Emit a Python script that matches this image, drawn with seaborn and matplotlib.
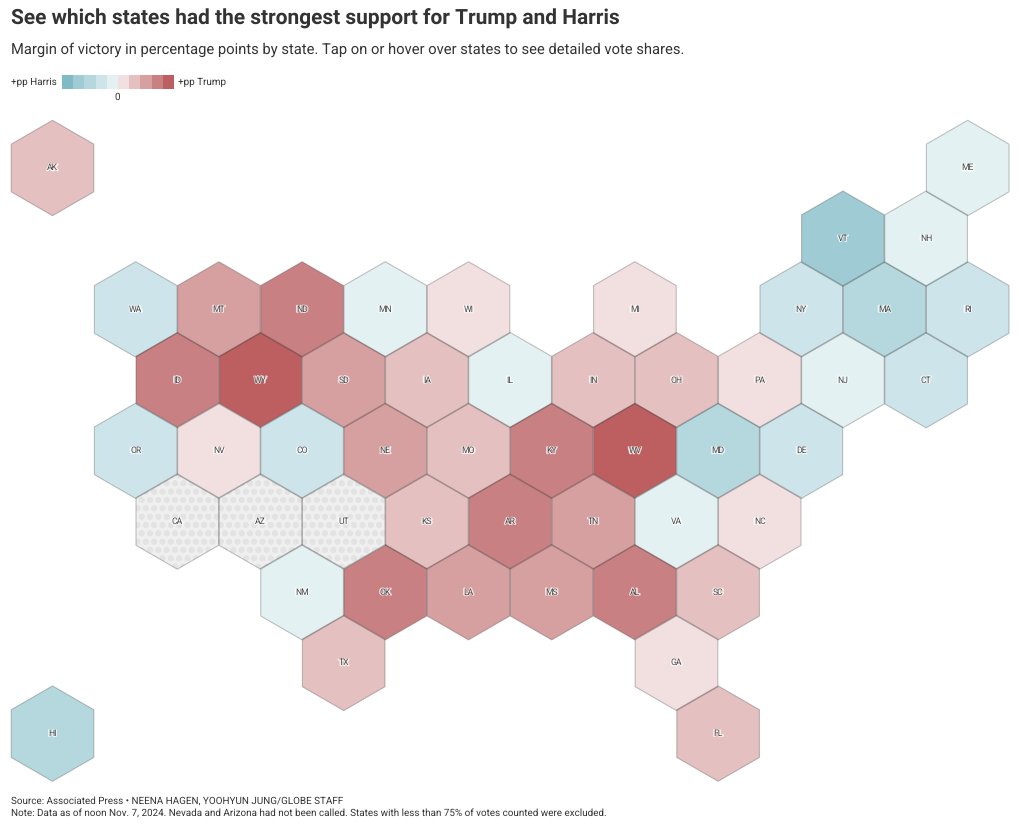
import numpy as np
import pandas as pd
import matplotlib
matplotlib.use("Agg")
import matplotlib.pyplot as plt
import matplotlib.patheffects as pe
from matplotlib.colors import ListedColormap
import seaborn as sns

# tile grid: half-width columns and rows, margin = Trump minus Harris in pp
states = ["AK", "ME", "VT", "NH", "WA", "MT", "ND", "MN", "WI", "MI", "NY", "MA", "RI",
          "ID", "WY", "SD", "IA", "IL", "IN", "OH", "PA", "NJ", "CT",
          "OR", "NV", "CO", "NE", "MO", "KY", "WV", "MD", "DE",
          "CA", "AZ", "UT", "KS", "AR", "TN", "VA", "NC",
          "NM", "OK", "LA", "MS", "AL", "SC", "TX", "GA", "HI", "FL"]
cols = [0, 22, 19, 21, 2, 4, 6, 8, 10, 14, 18, 20, 22,
        3, 5, 7, 9, 11, 13, 15, 17, 19, 21,
        2, 4, 6, 8, 10, 12, 14, 16, 18,
        3, 5, 7, 9, 11, 13, 15, 17,
        6, 8, 10, 12, 14, 16, 7, 15, 0, 16]
rows = [0, 0, 1, 1, 2, 2, 2, 2, 2, 2, 2, 2, 2,
        3, 3, 3, 3, 3, 3, 3, 3, 3, 3,
        4, 4, 4, 4, 4, 4, 4, 4, 4,
        5, 5, 5, 5, 5, 5, 5, 5,
        6, 6, 6, 6, 6, 6, 7, 7, 8, 8]
margins = [13, -7, -32, -3, -18, 20, 36, -4, 1, 1, -11, -25, -13,
           37, 46, 29, 13, -8, 19, 11, 2, -5, -14,
           -14, 3, -11, 20, 18, 31, 42, -28, -15,
           None, None, None, 16, 30, 29, -5, 3,
           -5, 34, 22, 23, 31, 18, 14, 2, -23, 13]

bin_colors = ["#7fbac6", "#9fcbd5", "#b5d8de", "#cde5ea", "#e4f1f3",
              "#f2dfe0", "#e4c0c0", "#d69fa0", "#c98082", "#bd5f60"]
bin_edges = [-40, -30, -20, -10, 0, 10, 20, 30, 40]

sns.set_style("white")
plt.rcParams["font.family"] = ["Roboto", "DejaVu Sans"]
plt.rcParams["hatch.linewidth"] = 1.8
plt.rcParams["text.hinting"] = "no_hinting"

df = pd.DataFrame({"state": states, "col": cols, "row": rows, "margin": margins})
called = df[df["margin"].notna()].copy()
called["bin"] = np.digitize(called["margin"], bin_edges)
excluded = df[df["margin"].isna()]

fig = plt.figure(figsize=(10.2, 8.32), dpi=100)
ax = fig.add_axes([0, 0, 1, 1])
ax.set_xlim(-52.5 / 41.6, (1020 - 52.5) / 41.6)
ax.set_ylim((832 - 168) / 70.7, -168 / 70.7)

hex_size = 4720
edge = (0.25, 0.25, 0.25, 0.3)

sns.scatterplot(data=called, x="col", y="row", hue="bin", palette=dict(enumerate(bin_colors)),
                hue_order=list(range(10)), marker="h", s=hex_size, linewidth=0, legend=False, ax=ax)
sns.scatterplot(data=excluded, x="col", y="row", marker="h", s=hex_size, color="#efefef",
                edgecolor="#e3e3e3", linewidth=0, hatch="oo", legend=False, ax=ax)
sns.scatterplot(data=df, x="col", y="row", marker="h", s=hex_size, facecolor="none",
                edgecolor=[edge], linewidth=0.8, legend=False, ax=ax)

# halo as its own text underneath, stroked outlines lose thin stems otherwise
for state, col, row in zip(df["state"], df["col"], df["row"]):
    ax.text(col, row, state, ha="center", va="center", fontsize=6.2, color=(1, 1, 1, 0.7),
            path_effects=[pe.Stroke(linewidth=1.4, foreground=(1, 1, 1, 0.7))])
    ax.text(col, row, state, ha="center", va="center", fontsize=6.2, color="#4a4a4a")
ax.set_axis_off()

# legend strip
lax = fig.add_axes([62 / 1020, 1 - 89 / 832, 112 / 1020, 14 / 832])
sns.heatmap(np.arange(10).reshape(1, -1), cmap=ListedColormap(bin_colors), cbar=False,
            xticklabels=False, yticklabels=False, linewidths=0, ax=lax)

ink = "#333333"
fig.text(11 / 1020, 1 - 19 / 832, "See which states had the strongest support for Trump and Harris",
         fontsize=15.07, fontweight="bold", color=ink, va="center")
fig.text(11 / 1020, 1 - 50 / 832,
         "Margin of victory in percentage points by state. Tap on or hover over states to see detailed vote shares.",
         fontsize=10.63, color=ink, va="center")
fig.text(11 / 1020, 1 - 82 / 832, "+pp Harris", fontsize=7.1, color=ink, va="center")
fig.text(178 / 1020, 1 - 82 / 832, "+pp Trump", fontsize=7.1, color=ink, va="center")
fig.text(117.5 / 1020, 1 - 97 / 832, "0", fontsize=7.1, color=ink, va="center", ha="center")
fig.text(11 / 1020, 1 - 801 / 832, "Source: Associated Press • NEENA HAGEN, YOOHYUN JUNG/GLOBE STAFF",
         fontsize=7.1, color=ink, va="center")
fig.text(11 / 1020, 1 - 814 / 832,
         "Note: Data as of noon Nov. 7, 2024. Nevada and Arizona had not been called. States with less than 75% of votes counted were excluded.",
         fontsize=7.1, color=ink, va="center")

fig.savefig("out.png", dpi=100)
